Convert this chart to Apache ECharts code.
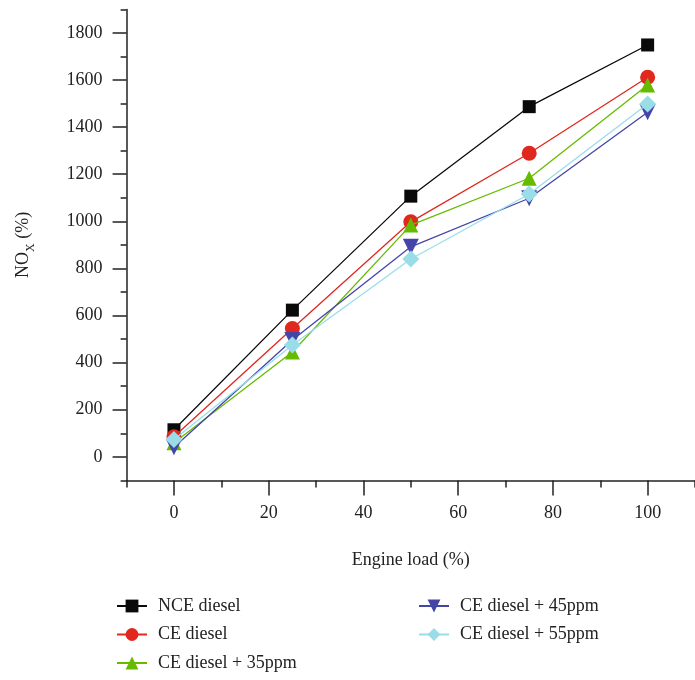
<!DOCTYPE html>
<html>
<head>
<meta charset="utf-8">
<script src="https://cdn.jsdelivr.net/npm/echarts@6/dist/echarts.min.js"></script>
<style>html,body{margin:0;padding:0;background:#fff}#c{width:695px;height:680px}</style>
</head>
<body>
<div id="c"></div>
<script>
var loads = [0, 25, 50, 75, 100];
var nceDiesel = [115, 623, 1107, 1487, 1749];
var ceDiesel = [85, 545, 998, 1289, 1612];
var ce35 = [60, 445, 984, 1183, 1579];
var ce45 = [41, 496, 892, 1098, 1463];
var ce55 = [74, 475, 840, 1116, 1498];
var seriesNames = ['NCE diesel', 'CE diesel', 'CE diesel + 35ppm', 'CE diesel + 45ppm', 'CE diesel + 55ppm'];
var xMajor = [0, 20, 40, 60, 80, 100];
var xMinor = [-10, 10, 30, 50, 70, 90, 110];
var yMajor = [0, 200, 400, 600, 800, 1000, 1200, 1400, 1600, 1800];
var yMinor = [-100, 100, 300, 500, 700, 900, 1100, 1300, 1500, 1700, 1900];

var FONT = 'Liberation Serif';
var AXC = '#222';
function pts(v) { return loads.map(function (x, i) { return [x, v[i]]; }); }
function plain(v) { return String(v); }

var gridRect = { left: 126.6, top: 9.4, width: 572.9, height: 471 };
var chart = echarts.init(document.getElementById('c'), null, { renderer: 'canvas' });

var styles = [
  { data: nceDiesel, color: '#0a0a0a', symbol: 'rect', size: 13 },
  { data: ceDiesel, color: '#e0281e', symbol: 'circle', size: 15 },
  { data: ce35, color: '#66bb00', symbol: 'triangle', size: 15 },
  { data: ce45, color: '#4545a8', symbol: 'path://M0,0 L10,0 L5,9 Z', size: 16 },
  { data: ce55, color: '#99dde9', symbol: 'diamond', size: 17 }
];

var legendText = { fontSize: 18, lineHeight: 18, color: '#222', fontFamily: FONT, padding: [0, 0, 0, 6] };

chart.setOption({
  animation: false,
  textStyle: { fontFamily: FONT },
  grid: [
    Object.assign({ containLabel: false }, gridRect),
    Object.assign({ containLabel: false }, gridRect)
  ],
  xAxis: [{
    type: 'value', gridIndex: 0, min: -10, max: 110, interval: 10,
    axisLine: { show: true, onZero: false, lineStyle: { color: AXC, width: 1.5 } },
    axisTick: { show: true, length: 15, customValues: xMajor, lineStyle: { color: AXC, width: 1.5 } },
    axisLabel: { show: true, customValues: xMajor, formatter: plain, margin: 24, fontSize: 18, color: '#222', fontFamily: FONT },
    splitLine: { show: false },
    name: 'Engine load (%)', nameLocation: 'middle', nameGap: 71,
    nameTextStyle: { fontSize: 18, color: '#222', fontFamily: FONT }
  }, {
    type: 'value', gridIndex: 1, min: -10, max: 110, interval: 10,
    axisLine: { show: false, onZero: false },
    axisTick: { show: true, length: 7, customValues: xMinor, lineStyle: { color: AXC, width: 1.5 } },
    axisLabel: { show: false },
    splitLine: { show: false }
  }],
  yAxis: [{
    type: 'value', gridIndex: 0, min: -100, max: 1900, interval: 100,
    axisLine: { show: true, onZero: false, lineStyle: { color: AXC, width: 1.5 } },
    axisTick: { show: true, length: 14, customValues: yMajor, lineStyle: { color: AXC, width: 1.5 } },
    axisLabel: { show: true, customValues: yMajor, formatter: plain, margin: 24, fontSize: 18, color: '#222', fontFamily: FONT },
    splitLine: { show: false },
    name: '{a|NO}{s|X}{a| (%)}', nameLocation: 'middle', nameGap: 94, nameRotate: 90,
    nameTextStyle: {
      fontFamily: FONT, color: '#222',
      rich: {
        a: { fontSize: 18, fontFamily: FONT, color: '#222', verticalAlign: 'bottom' },
        s: { fontSize: 12, fontFamily: FONT, color: '#222', verticalAlign: 'bottom', padding: [0, 0, -4, 0] }
      }
    }
  }, {
    type: 'value', gridIndex: 1, min: -100, max: 1900, interval: 100,
    axisLine: { show: false, onZero: false },
    axisTick: { show: true, length: 6, customValues: yMinor, lineStyle: { color: AXC, width: 1.5 } },
    axisLabel: { show: false },
    splitLine: { show: false }
  }],
  legend: [{
    orient: 'vertical', left: 111, top: 592, itemWidth: 30, itemHeight: 16, itemGap: 10.5,
    data: seriesNames.slice(0, 3),
    textStyle: legendText
  }, {
    orient: 'vertical', left: 413, top: 592, itemWidth: 30, itemHeight: 16, itemGap: 10.5,
    data: seriesNames.slice(3),
    textStyle: legendText
  }],
  series: styles.map(function (s, i) {
    return {
      name: seriesNames[i], type: 'line', xAxisIndex: 0, yAxisIndex: 0,
      data: pts(s.data), symbol: s.symbol, symbolSize: s.size,
      itemStyle: { color: s.color },
      lineStyle: { color: s.color, width: 1.3 },
      z: 2 + i
    };
  })
});
</script>
</body>
</html>
